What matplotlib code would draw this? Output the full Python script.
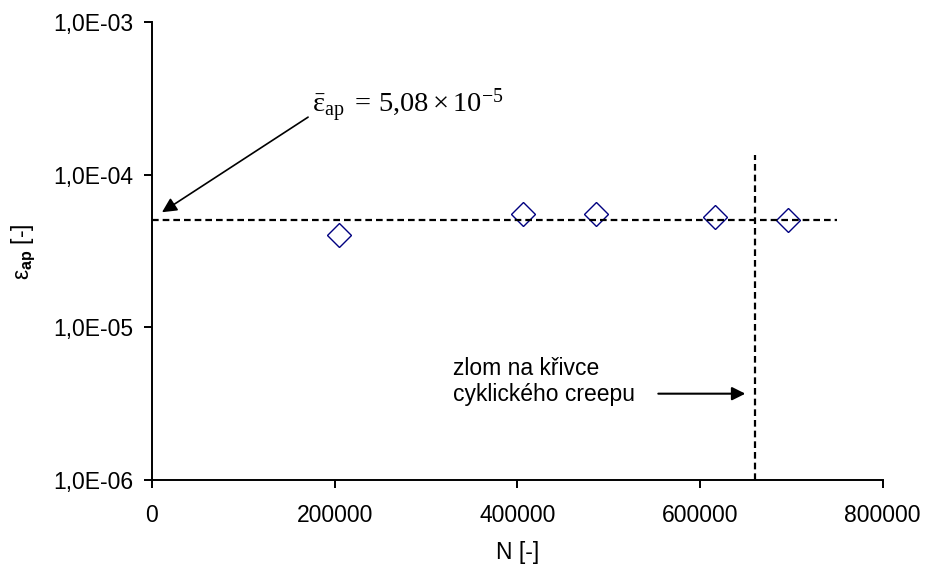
import matplotlib
matplotlib.use("Agg")
import matplotlib.pyplot as plt
from matplotlib.ticker import FixedLocator, FuncFormatter

plt.rcParams['font.family'] = ['Liberation Sans', 'DejaVu Sans']
plt.rcParams['mathtext.fontset'] = 'custom'
plt.rcParams['mathtext.rm'] = 'Liberation Serif'
plt.rcParams['mathtext.it'] = 'Liberation Serif:italic'
plt.rcParams['mathtext.bf'] = 'Liberation Sans:bold'
plt.rcParams['mathtext.sf'] = 'Liberation Sans'

# measured amplitude of creep strain vs. number of cycles
N = [204800, 406400, 486300, 616600, 696600]
eps_ap = [4.02e-5, 5.52e-5, 5.52e-5, 5.30e-5, 5.04e-5]
eps_mean = 5.08e-5
N_break = 660500
N_max = 750000

x_ticks = [0, 200000, 400000, 600000, 800000]
y_ticks = [1e-6, 1e-5, 1e-4, 1e-3]

fig = plt.figure(figsize=(9.25, 5.69), dpi=100)
ax = fig.add_axes([0.1643, 0.1564, 0.79, 0.8044])

ax.plot(N, eps_ap, linestyle='none', marker='D', markersize=12.5,
        markerfacecolor='none', markeredgecolor='#000080', markeredgewidth=1.0)

# mean value and break on the cyclic creep curve
dash = (0, (3, 1.8))
ax.plot([0, N_max], [eps_mean, eps_mean], color='black', lw=1.6, linestyle=dash)
ax.plot([N_break, N_break], [1e-6, 1.35e-4], color='black', lw=1.6, linestyle=dash)

ax.set_yscale('log')
ax.set_xlim(0, 800000)
ax.set_ylim(1e-6, 1e-3)
ax.xaxis.set_major_locator(FixedLocator(x_ticks))
ax.yaxis.set_major_locator(FixedLocator(y_ticks))
ax.yaxis.set_minor_locator(FixedLocator([]))
ax.xaxis.set_major_formatter(FuncFormatter(lambda v, p: '%d' % v))
ax.yaxis.set_major_formatter(FuncFormatter(lambda v, p: ('%.1E' % v).replace('.', ',')))

for s in ['top', 'right']:
    ax.spines[s].set_visible(False)
for s in ['left', 'bottom']:
    ax.spines[s].set_linewidth(1.4)
ax.tick_params(axis='both', direction='out', length=6, width=1.4, labelsize=16.5)
ax.tick_params(axis='x', pad=11.5)
ax.tick_params(axis='y', pad=7.5)

ax.set_xlabel('N [-]', fontsize=16.5)
ax.set_ylabel(r'$\mathsf{\varepsilon}_{\mathbf{ap}}$ [-]', fontsize=16.5)
ax.xaxis.set_label_coords(0.5, -0.133)
ax.yaxis.set_label_coords(-0.158, 0.5)

ax.text(175000, 2.55e-4,
        r'$\bar{\mathrm{\varepsilon}}_{\mathrm{ap}}\ =\,5{,}08\times10^{-5}$',
        fontsize=20.5, va='baseline', ha='left')
ax.annotate('', xy=(10950, 5.69e-5), xytext=(170900, 2.39e-4),
            arrowprops=dict(arrowstyle='-|>', color='black', lw=1.2,
                            mutation_scale=22, shrinkA=0, shrinkB=0))

ax.text(330000, 4.42e-6, 'zlom na křivce\ncyklického creepu',
        fontsize=16.5, va='center', ha='left', linespacing=1.15)
ax.annotate('', xy=(649600, 3.68e-6), xytext=(554300, 3.68e-6),
            arrowprops=dict(arrowstyle='-|>', color='black', lw=1.5,
                            mutation_scale=20, shrinkA=0, shrinkB=0))

fig.savefig('out.png', dpi=100)
